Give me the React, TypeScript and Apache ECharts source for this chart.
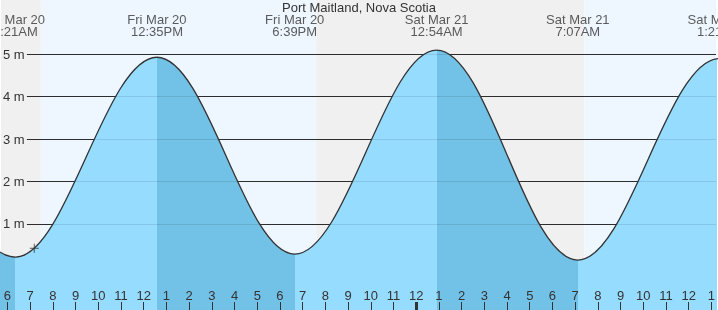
import React, { useEffect, useRef } from 'react';
import * as echarts from 'echarts';

const TITLE = 'Port Maitland, Nova Scotia';
// tide extremes, hours counted from Fri Mar 20 00:00
const extremeHours = [0.17, 6.35, 12.583, 18.65, 24.9, 31.117, 37.35, 43.55];
const extremeHeights = [5.0, 0.22, 4.93, 0.29, 5.1, 0.15, 4.9, 0.3];
const extremeDays = ['Fri Mar 20', 'Fri Mar 20', 'Fri Mar 20', 'Fri Mar 20', 'Sat Mar 21', 'Sat Mar 21', 'Sat Mar 21', 'Sat Mar 21'];
const extremeTimes = ['12:10AM', '6:21AM', '12:35PM', '6:39PM', '12:54AM', '7:07AM', '1:21PM', '7:33PM'];
// sunrise, sunset, sunrise
const sunHours = [7.47, 19.6, 31.4];
const hourTicks = [6, 7, 8, 9, 10, 11, 12, 13, 14, 15, 16, 17, 18, 19, 20, 21, 22, 23, 24, 25, 26, 27, 28, 29, 30, 31, 32, 33, 34, 35, 36, 37];
const heightTicks = [1, 2, 3, 4, 5];
const midnightTicks = [24];
const nowPoint = [7.18, 0.43];

const X_MIN = 5.715;
const X_MAX = 37.206;
const Y_MIN = -1.027;
const Y_MAX = 6.279;
const W = 718;
const H = 310;
const PX_PER_M = H / (Y_MAX - Y_MIN);
const PX_PER_H = W / (X_MAX - X_MIN);
const GRID_START = X_MIN + 26 / PX_PER_H;
const LABEL_Y = Y_MAX - 25.5 / PX_PER_M;

const LIGHT = '#95dcff';
const DARK = '#72c1e6';
const DAY = '#eef7ff';
const NIGHT = '#f0f0f0';
const INK = '#333';
const FONT = '"Liberation Sans", Arial, sans-serif';

export default function App() {
  const ref = useRef<HTMLDivElement>(null);
  useEffect(() => {
    if (!ref.current) return;
    const chart = echarts.init(ref.current, undefined, { renderer: 'svg' });
    const curve = extremeHours.map((t, i) => [t, extremeHeights[i]]);

    const pieces: any[] = [{ lt: extremeHours[0], color: extremeHeights[0] > extremeHeights[1] ? LIGHT : DARK }];
    for (let i = 0; i < extremeHours.length - 1; i++) {
      pieces.push({
        gte: extremeHours[i],
        lt: extremeHours[i + 1],
        color: extremeHeights[i] > extremeHeights[i + 1] ? DARK : LIGHT,
      });
    }
    const n = extremeHours.length;
    pieces.push({ gte: extremeHours[n - 1], color: extremeHeights[n - 1] > extremeHeights[n - 2] ? DARK : LIGHT });

    const bands: any[] = [];
    const edges = [X_MIN, ...sunHours, X_MAX];
    for (let i = 0; i < edges.length - 1; i++) {
      bands.push([
        { xAxis: edges[i], itemStyle: { color: i % 2 === 0 ? NIGHT : DAY } },
        { xAxis: edges[i + 1] },
      ]);
    }
    const gridLines = () => heightTicks.map((v) => [{ coord: [GRID_START, v] }, { coord: [X_MAX, v] }]) as any;

    chart.setOption({
      animation: false,
      textStyle: { fontFamily: FONT },
      title: {
        text: TITLE,
        left: 'center',
        top: 1,
        padding: 0,
        textStyle: { fontSize: 13, fontWeight: 'normal', color: INK, fontFamily: FONT },
      },
      grid: { left: 0, right: 0, top: 0, bottom: 0, containLabel: false },
      xAxis: [
        {
          type: 'value',
          min: X_MIN,
          max: X_MAX,
          position: 'bottom',
          z: 10,
          axisLine: { show: false, onZero: false },
          splitLine: { show: false },
          axisTick: { show: true, inside: true, length: 8, customValues: hourTicks, lineStyle: { color: INK, width: 1 } },
          axisLabel: {
            show: true,
            inside: true,
            margin: 8,
            customValues: hourTicks,
            color: INK,
            fontSize: 13,
            fontFamily: FONT,
            formatter: (v: number) => String(Math.round(v) % 12 === 0 ? 12 : Math.round(v) % 12),
          },
        },
        {
          type: 'value',
          min: X_MIN,
          max: X_MAX,
          position: 'bottom',
          z: 10,
          axisLine: { show: false, onZero: false },
          splitLine: { show: false },
          axisTick: { show: true, inside: true, length: 8, customValues: midnightTicks, lineStyle: { color: INK, width: 3 } },
          axisLabel: { show: false },
        },
      ],
      yAxis: {
        type: 'value',
        min: Y_MIN,
        max: Y_MAX,
        z: 10,
        axisLine: { show: false, onZero: false },
        axisTick: { show: false },
        splitLine: { show: false },
        axisLabel: {
          show: true,
          inside: true,
          margin: 2,
          customValues: heightTicks,
          color: INK,
          fontSize: 13,
          fontFamily: FONT,
          formatter: '{value} m',
        },
      },
      visualMap: {
        type: 'piecewise',
        show: false,
        dimension: 0,
        seriesIndex: 0,
        pieces,
      },
      series: [
        {
          type: 'line',
          data: curve,
          smooth: 0.363,
          symbol: 'none',
          showSymbol: false,
          silent: true,
          z: 2,
          lineStyle: { width: 0 },
          areaStyle: { opacity: 1, origin: 'start' },
          markArea: { silent: true, z: 0, data: bands },
          markLine: {
            silent: true,
            z: 1,
            symbol: 'none',
            label: { show: false },
            lineStyle: { color: INK, width: 1, type: 'solid' },
            data: gridLines(),
          },
        },
        {
          type: 'line',
          data: curve,
          smooth: 0.363,
          symbol: 'none',
          showSymbol: false,
          silent: true,
          z: 4,
          lineStyle: { color: INK, width: 1.3 },
          markLine: {
            silent: true,
            z: 3,
            symbol: 'none',
            label: { show: false },
            lineStyle: { color: 'rgba(0,0,0,0.1)', width: 1, type: 'solid' },
            data: gridLines(),
          },
        },
        {
          type: 'scatter',
          data: [nowPoint],
          symbol: 'path://M4,0H5V4H9V5H5V9H4V5H0V4H4Z',
          symbolSize: 9,
          itemStyle: { color: INK },
          silent: true,
          z: 5,
        },
        {
          type: 'scatter',
          data: extremeHours.map((t) => [t, LABEL_Y]),
          symbolSize: 1,
          clip: false,
          itemStyle: { color: 'transparent' },
          silent: true,
          z: 6,
          label: {
            show: true,
            position: 'inside',
            color: INK,
            fontSize: 13,
            lineHeight: 12,
            fontFamily: FONT,
            align: 'center',
            formatter: (p: any) => `${extremeDays[p.dataIndex]}\n${extremeTimes[p.dataIndex]}`,
          },
        },
      ],
    });
    return () => chart.dispose();
  }, []);
  return <div ref={ref} style={{ position: 'fixed', left: 0, top: 0, width: W, height: H }} />;
}
